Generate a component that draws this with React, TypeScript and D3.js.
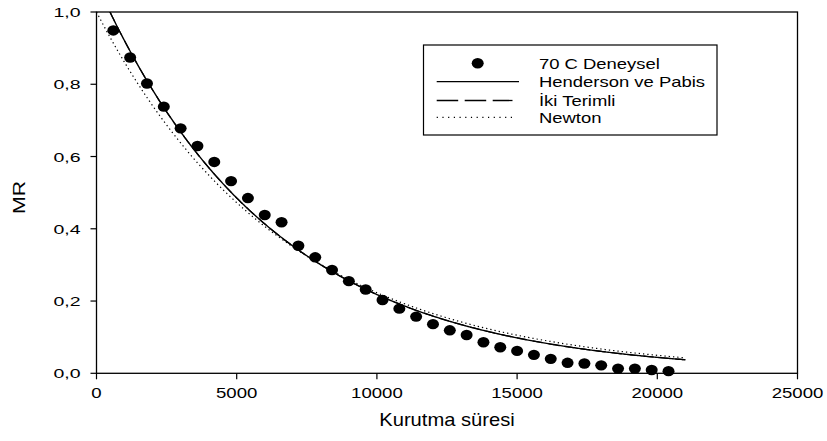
import React from "react";
import * as d3 from "d3";

// Drying time (s) and measured moisture ratio at 70 °C
const times = [
  600, 1200, 1800, 2400, 3000, 3600, 4200, 4800, 5400, 6000,
  6600, 7200, 7800, 8400, 9000, 9600, 10200, 10800, 11400, 12000,
  12600, 13200, 13800, 14400, 15000, 15600, 16200, 16800, 17400, 18000,
  18600, 19200, 19800, 20400,
];
const mrValues = [
  0.949, 0.874, 0.802, 0.738, 0.678, 0.629, 0.585, 0.532, 0.485, 0.438,
  0.418, 0.353, 0.321, 0.286, 0.255, 0.232, 0.203, 0.179, 0.157, 0.136,
  0.119, 0.106, 0.086, 0.072, 0.062, 0.051, 0.040, 0.029, 0.027, 0.022,
  0.013, 0.013, 0.009, 0.006,
];

// Fitted thin-layer model parameters
const hendersonPabis = [1.08, 1.6e-4]; // a, k
const ikiTerimli = [0.54, 1.6e-4, 0.54, 1.6e-4]; // a, k0, b, k1
const newton = [1.5e-4]; // k
const curveRange = [0, 21000];

const xTicks = [0, 5000, 10000, 15000, 20000, 25000];
const yTicks = [0, 0.2, 0.4, 0.6, 0.8, 1.0];

const legendLabels = ["70 C Deneysel", "Henderson ve Pabis", "İki Terimli", "Newton"];

const W = 827;
const H = 441;
const m = { left: 96.5, right: 797.5, top: 12, bottom: 373.3 };
const font = "Liberation Sans, Arial, sans-serif";
const dotted = "1.3,3";

type STProps = {
  x: number;
  y: number;
  size: number;
  sx: number;
  anchor?: "start" | "middle" | "end";
  rotate?: number;
  children: React.ReactNode;
};

// Text drawn with a horizontal stretch in its own reading direction
function StretchText({ x, y, size, sx, anchor = "start", rotate = 0, children }: STProps) {
  return (
    <text
      transform={`translate(${x},${y}) rotate(${rotate}) scale(${sx},1)`}
      textAnchor={anchor}
      fontSize={size}
    >
      {children}
    </text>
  );
}

export default function App() {
  const x = d3.scaleLinear().domain([0, 25000]).range([m.left, m.right]);
  const y = d3.scaleLinear().domain([0, 1]).range([m.bottom, m.top]);

  const ts = d3.range(curveRange[0], curveRange[1] + 1, 50);
  const line = d3
    .line<[number, number]>()
    .x((d) => x(d[0]))
    .y((d) => y(d[1]));

  const hp = ts.map((t) => [t, hendersonPabis[0] * Math.exp(-hendersonPabis[1] * t)] as [number, number]);
  const tt = ts.map(
    (t) =>
      [t, ikiTerimli[0] * Math.exp(-ikiTerimli[1] * t) + ikiTerimli[2] * Math.exp(-ikiTerimli[3] * t)] as [
        number,
        number
      ]
  );
  const nw = ts.map((t) => [t, Math.exp(-newton[0] * t)] as [number, number]);

  const lg = { x0: 423.5, y0: 45, x1: 717, y1: 135 };
  const rowY = [63.3, 81.7, 100.5, 117.3];
  const sampleX = [436.7, 519];
  const textX = 539;

  return (
    <svg
      width={W}
      height={H}
      style={{ position: "absolute", left: 0, top: 0, background: "#fff" }}
      fontFamily={font}
    >
      <defs>
        <clipPath id="plotClip">
          <rect x={m.left} y={m.top} width={m.right - m.left} height={m.bottom - m.top} />
        </clipPath>
      </defs>

      {/* frame */}
      <rect
        x={m.left}
        y={m.top}
        width={m.right - m.left}
        height={m.bottom - m.top}
        fill="none"
        stroke="#000"
        strokeWidth={1.3}
      />

      {/* x axis ticks */}
      {xTicks.map((t) => (
        <g key={"x" + t}>
          <line x1={x(t)} x2={x(t)} y1={m.bottom} y2={m.bottom + 6} stroke="#000" strokeWidth={1.2} />
          <StretchText x={x(t)} y={398} size={15} sx={1.24} anchor="middle">
            {t}
          </StretchText>
        </g>
      ))}

      {/* y axis ticks */}
      {yTicks.map((t) => (
        <g key={"y" + t}>
          <line x1={m.left - 6} x2={m.left} y1={y(t)} y2={y(t)} stroke="#000" strokeWidth={1.2} />
          <StretchText x={80.5} y={y(t) + 5} size={13} sx={1.5} anchor="end">
            {t.toFixed(1).replace(".", ",")}
          </StretchText>
        </g>
      ))}

      <StretchText x={447} y={426} size={18} sx={1.12} anchor="middle">
        Kurutma süresi
      </StretchText>
      <StretchText x={25} y={197.5} size={17} sx={1.25} anchor="middle" rotate={-90}>
        MR
      </StretchText>

      {/* model curves */}
      <g clipPath="url(#plotClip)" fill="none" stroke="#000">
        <path d={line(nw) ?? ""} strokeWidth={1.2} strokeDasharray={dotted} />
        <path d={line(tt) ?? ""} strokeWidth={1.2} strokeDasharray="10,6" />
        <path d={line(hp) ?? ""} strokeWidth={1.4} />
      </g>

      {/* measured points */}
      <g fill="#000">
        {times.map((t, i) => (
          <ellipse key={t} cx={x(t)} cy={y(mrValues[i])} rx={6} ry={5.2} />
        ))}
      </g>

      {/* legend */}
      <rect
        x={lg.x0}
        y={lg.y0}
        width={lg.x1 - lg.x0}
        height={lg.y1 - lg.y0}
        fill="#fff"
        stroke="#000"
        strokeWidth={1.2}
      />
      <ellipse cx={477.7} cy={rowY[0]} rx={6} ry={5.2} fill="#000" />
      <line x1={sampleX[0]} x2={sampleX[1]} y1={rowY[1]} y2={rowY[1]} stroke="#000" strokeWidth={1.3} />
      <line
        x1={sampleX[0]}
        x2={512.5}
        y1={rowY[2]}
        y2={rowY[2]}
        stroke="#000"
        strokeWidth={1.3}
        strokeDasharray="21.5,6.5"
      />
      <line
        x1={sampleX[0]}
        x2={515}
        y1={rowY[3]}
        y2={rowY[3]}
        stroke="#000"
        strokeWidth={1.2}
        strokeDasharray="1.2,4.5"
      />
      {legendLabels.map((l, i) => (
        <StretchText key={l} x={textX} y={rowY[i] + 5.2} size={15} sx={1.23}>
          {l}
        </StretchText>
      ))}
    </svg>
  );
}
